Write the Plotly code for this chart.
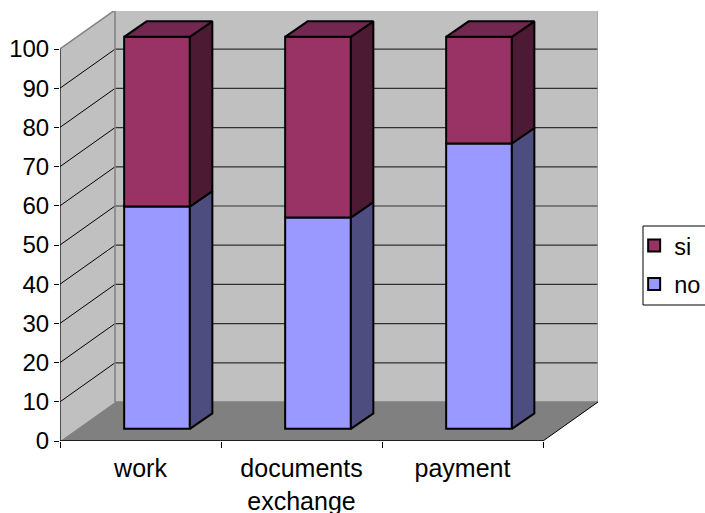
import plotly.graph_objects as go

categories = ["work", "documents<br>exchange", "payment"]
no_values = [56.7, 53.9, 72.8]
si_values = [43.3, 46.1, 27.2]
y_ticks = [0, 10, 20, 30, 40, 50, 60, 70, 80, 90, 100]

# 3-D projection expressed in axis units
WALL_DX, WALL_DY = 55 / 161, 39 / 3.92
BAR_DX, BAR_DY = 22.5 / 161, 15.5 / 3.92
BAR_SHIFT, BAR_BASE = 0.1025, 3.1
BAR_WIDTH = 0.408
X_MAX, Y_MAX = 3 + WALL_DX, 430 / 3.92

GREY, FLOOR = "#C0C0C0", "#808080"

shapes = []


def poly(pts, fill, line="rgba(0,0,0,0)", width=0):
    path = "M " + " L ".join(f"{x},{y}" for x, y in pts) + " Z"
    shapes.append(dict(type="path", path=path, xref="x", yref="y", fillcolor=fill,
                       line=dict(color=line, width=width), layer="below"))


def seg(x0, y0, x1, y1, color, width):
    shapes.append(dict(type="line", x0=x0, y0=y0, x1=x1, y1=y1, xref="x", yref="y",
                       line=dict(color=color, width=width), layer="below"))


# walls and floor
poly([(WALL_DX, WALL_DY), (X_MAX, WALL_DY), (X_MAX, 100 + WALL_DY), (WALL_DX, 100 + WALL_DY)], GREY)
poly([(0, 0), (WALL_DX, WALL_DY), (WALL_DX, 100 + WALL_DY), (0, 100)], GREY)
poly([(0, 0), (3, 0), (X_MAX, WALL_DY), (WALL_DX, WALL_DY)], FLOOR)

# gridlines
for t in y_ticks[1:-1]:
    seg(0, t, WALL_DX, t + WALL_DY, "#000000", 1)
    seg(WALL_DX, t + WALL_DY, X_MAX, t + WALL_DY, "#303030", 1.2)

# wall edges
seg(WALL_DX, WALL_DY, WALL_DX, 100 + WALL_DY, "#808080", 1.5)
seg(WALL_DX, 100 + WALL_DY, X_MAX, 100 + WALL_DY, "#808080", 1.5)
seg(X_MAX, WALL_DY, X_MAX, 100 + WALL_DY, "#A0A0A0", 1.5)
seg(0, 100, WALL_DX, 100 + WALL_DY, "#808080", 1.5)
seg(WALL_DX, WALL_DY, X_MAX, WALL_DY, "#808080", 1.5)
seg(3, 0, X_MAX, WALL_DY, "#000000", 1)
seg(0, 0, 0, 100, "#000000", 1.2)
seg(0, 0, 3, 0, "#000000", 1.5)

# legend frame, running off the right edge as in the original
shapes.append(dict(type="rect", xref="paper", yref="paper", x0=(643 - 60) / 538, x1=1.3,
                   y0=(441 - 305) / 430, y1=(441 - 226) / 430,
                   fillcolor="#FFFFFF", line=dict(color="#000000", width=1), layer="below"))

positions = [i + 0.5 + BAR_SHIFT for i in range(len(categories))]

fig = go.Figure()
fig.add_trace(go.Bar(x=positions, y=no_values, base=[BAR_BASE] * 3, width=BAR_WIDTH, name="no", legendgroup="no",
                     legendrank=2,
                     marker=dict(color="#9999FF", line=dict(color="#000000", width=2))))
fig.add_trace(go.Bar(x=positions, y=si_values, base=[BAR_BASE + v for v in no_values], width=BAR_WIDTH, name="si",
                     legendgroup="si", legendrank=1,
                     marker=dict(color="#993366", line=dict(color="#000000", width=2))))


def face(pts, fill):
    xs, ys = zip(*pts)
    fig.add_trace(go.Scatter(x=list(xs) + [xs[0]], y=list(ys) + [ys[0]], mode="lines", fill="toself",
                             fillcolor=fill, line=dict(color="#000000", width=2),
                             showlegend=False, hoverinfo="skip"))


for i, cx in enumerate(positions):
    r = cx + BAR_WIDTH / 2
    l = cx - BAR_WIDTH / 2
    b = BAR_BASE
    m = b + no_values[i]
    t = m + si_values[i]
    face([(r, b), (r + BAR_DX, b + BAR_DY), (r + BAR_DX, m + BAR_DY), (r, m)], "#4D4D80")
    face([(r, m), (r + BAR_DX, m + BAR_DY), (r + BAR_DX, t + BAR_DY), (r, t)], "#4D1A33")
    face([(l, t), (r, t), (r + BAR_DX, t + BAR_DY), (l + BAR_DX, t + BAR_DY)], "#732650")

family = "Liberation Sans, Arial, sans-serif"

fig.update_layout(
    width=705, height=513, autosize=False,
    margin=dict(l=60, r=107, t=11, b=72, pad=0),
    paper_bgcolor="#FFFFFF", plot_bgcolor="#FFFFFF",
    shapes=shapes, barmode="overlay", showlegend=True,
    font=dict(family=family, size=24, color="#000000"),
    legend=dict(x=0.8995, xref="container", y=0.483, yref="container", xanchor="left", yanchor="middle",
                traceorder="grouped", tracegroupgap=5, bgcolor="rgba(0,0,0,0)", borderwidth=0,
                font=dict(family=family, size=23.5, color="#000000"),
                itemwidth=30),
    xaxis=dict(range=[0, X_MAX], tickmode="array", tickvals=[0.5, 1.5, 2.5], ticktext=categories,
               ticks="", showgrid=False, zeroline=False, showline=False, automargin=False,
               tickfont=dict(family=family, size=25, color="#000000"), ticklabelstandoff=10,
               minor=dict(tickmode="array", tickvals=[0, 1, 2, 3], ticks="outside", ticklen=6,
                          tickwidth=1, tickcolor="#000000", showgrid=False)),
    yaxis=dict(range=[0, Y_MAX], tickmode="array", tickvals=y_ticks, ticks="outside", ticklen=5, tickwidth=1,
               tickcolor="#000000", showgrid=False, zeroline=False, showline=False, automargin=False,
               tickfont=dict(family=family, size=24, color="#000000")),
)

fig.write_html("out.html", config={"displayModeBar": False},
               post_script="document.body.style.margin='0';")
